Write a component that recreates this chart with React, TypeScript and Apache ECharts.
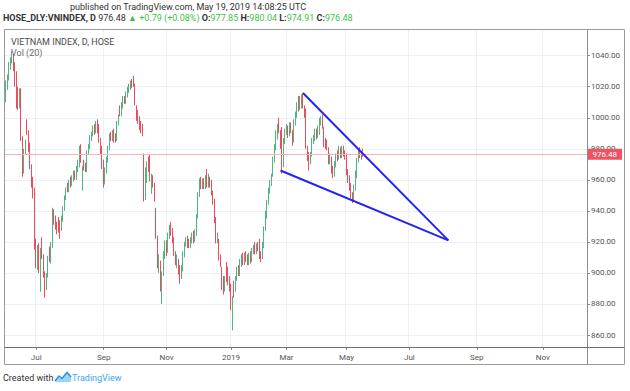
import React, { useEffect, useRef } from "react";
import * as echarts from "echarts";

// ---- data ----
const firstSession = "2018-06-01";
const lastSession = "2019-05-17";
const holidays = [
  "2018-09-03", "2019-01-01", "2019-02-04", "2019-02-05", "2019-02-06",
  "2019-02-07", "2019-02-08", "2019-04-15", "2019-04-29", "2019-04-30", "2019-05-01",
];
const slotCount = 389;
const monthNames = ["Jan", "Feb", "Mar", "Apr", "May", "Jun", "Jul", "Aug", "Sep", "Oct", "Nov", "Dec"];

// [open, close, low, high]
const candlesJun2018 = [
  [996, 1012, 994, 1014], [1012, 1021, 1010, 1024], [1021, 1026, 1018, 1028], [1026, 1034, 1024, 1036],
  [1034, 1037, 1031, 1039], [1037, 1040, 1035, 1043], [1040, 1034, 1030, 1041], [1034, 1022, 1020, 1036],
  [1024, 1016, 1006, 1030], [1018, 1008, 1005, 1020], [1008, 1017, 1006, 1019], [1017, 988, 985, 1019],
  [986, 966, 962, 988], [966, 978, 964, 980], [978, 984, 976, 986], [997, 991, 989, 999],
  [990, 981, 978, 992], [982, 970, 967, 984], [968, 958, 955, 970], [958, 950, 948, 962],
  [952, 918, 915, 955],
];
const candlesJul2018 = [
  [920, 906, 903, 922], [907, 916, 902, 918], [916, 903, 900, 919], [892, 914, 888, 916],
  [918, 912, 909, 923], [910, 900, 897, 912], [899, 892, 884, 901], [892, 898, 889, 900],
  [899, 909, 897, 911], [914, 910, 907, 917], [909, 918, 906, 920], [918, 940, 916, 942],
  [938, 934, 931, 941], [935, 930, 928, 937], [931, 928, 925, 933], [934, 929, 926, 936],
  [931, 927, 922, 934], [929, 935, 927, 937], [935, 941, 933, 943], [942, 948, 940, 950],
  [949, 953, 947, 955], [956, 954, 952, 958],
];
const candlesAug2018 = [
  [954, 958, 952, 960], [960, 957, 955, 962], [958, 961, 956, 963], [961, 964, 959, 966],
  [964, 962, 960, 966], [962, 967, 960, 969], [967, 971, 965, 973], [970, 980, 968, 982],
  [981, 973, 971, 983], [958, 967, 953, 969], [970, 968, 966, 973], [968, 967, 965, 971],
  [967, 977, 965, 979], [978, 981, 976, 983], [982, 987, 980, 989], [987, 989, 985, 991],
  [990, 993, 988, 995], [994, 992, 989, 996], [992, 996, 990, 998], [998, 993, 990, 999],
  [994, 986, 984, 996], [985, 979, 976, 987], [980, 970, 967, 982],
];
const candlesSep2018 = [
  [971, 960, 955, 973], [960, 966, 957, 968], [966, 973, 964, 975], [973, 980, 971, 982],
  [981, 988, 979, 990], [989, 987, 985, 991], [987, 990, 985, 992], [991, 987, 984, 993],
  [988, 986, 984, 990], [987, 996, 985, 998], [997, 1000, 995, 1002], [1005, 1003, 1001, 1008],
  [1003, 1008, 1001, 1010], [1008, 1012, 1006, 1014], [1012, 1011, 1009, 1014], [1011, 1015, 1009, 1017],
  [1015, 1018, 1013, 1020], [1018, 1020, 1016, 1022], [1020, 1022, 1018, 1024],
];
const candlesOct2018 = [
  [1024, 1021, 1019, 1025], [1025, 1022, 1020, 1027], [1021, 1010, 1008, 1022], [1006, 1000, 998, 1008],
  [1003, 998, 996, 1005], [999, 994, 992, 1001], [996, 993, 990, 998], [994, 990, 988, 996],
  [976, 950, 946, 977], [950, 966, 947, 968], [962, 970, 958, 972], [971, 968, 965, 975],
  [969, 962, 959, 976], [955, 962, 951, 964], [961, 957, 955, 963], [956, 948, 946, 958],
  [940, 925, 922, 942], [922, 906, 903, 924], [904, 909, 900, 912], [906, 890, 888, 908],
  [888, 899, 880, 901], [900, 912, 898, 914], [911, 919, 909, 921],
];
const candlesNov2018 = [
  [919, 914, 911, 921], [915, 924, 913, 926], [924, 929, 922, 931], [931, 926, 924, 933],
  [927, 922, 919, 929], [921, 914, 911, 923], [912, 908, 905, 914], [905, 910, 903, 912],
  [907, 901, 899, 909], [903, 898, 893, 905], [898, 903, 896, 905], [903, 912, 901, 914],
  [912, 918, 910, 920], [919, 921, 917, 923], [922, 919, 916, 924], [920, 918, 916, 922],
  [918, 921, 916, 923], [921, 924, 919, 926], [925, 921, 919, 927], [922, 926, 920, 928],
  [926, 936, 924, 938], [937, 950, 935, 952],
];
const candlesDec2018 = [
  [951, 959, 949, 961], [960, 956, 954, 962], [956, 959, 954, 961], [959, 956, 954, 961],
  [956, 961, 954, 963], [962, 957, 955, 967], [957, 961, 955, 964], [960, 957, 955, 962],
  [958, 952, 950, 960], [951, 946, 944, 953], [946, 935, 932, 948], [934, 922, 919, 936],
  [921, 924, 919, 926], [920, 911, 908, 922], [910, 906, 904, 912], [902, 892, 889, 904],
  [894, 889, 886, 898], [890, 896, 888, 898], [905, 897, 894, 907], [902, 895, 892, 904],
  [896, 892, 888, 898],
];
const candlesJan2019 = [
  [891, 878, 876, 893], [876, 883, 863, 885], [893, 889, 884, 895], [890, 896, 888, 898],
  [897, 902, 895, 904], [903, 900, 898, 905], [900, 907, 898, 909], [906, 910, 904, 912],
  [910, 907, 905, 913], [907, 911, 905, 913], [912, 909, 907, 914], [910, 907, 905, 912],
  [907, 911, 905, 913], [912, 909, 906, 914], [909, 914, 907, 916], [914, 916, 912, 918],
  [917, 914, 912, 920], [914, 917, 912, 919], [917, 916, 914, 920], [916, 911, 909, 922],
  [912, 910, 907, 914], [911, 918, 909, 920],
];
const candlesFeb2019 = [
  [918, 928, 916, 930], [929, 938, 927, 940], [937, 945, 935, 947], [946, 953, 944, 955],
  [953, 958, 951, 960], [958, 962, 956, 964], [964, 973, 962, 975], [973, 981, 971, 983],
  [981, 990, 979, 992], [988, 994, 986, 996], [996, 992, 990, 1000], [990, 983, 980, 992],
  [992, 966, 964, 994], [970, 985, 968, 987], [985, 991, 983, 993],
];
const candlesMar2019 = [
  [991, 994, 989, 996], [993, 990, 987, 995], [990, 995, 988, 997], [995, 992, 990, 997],
  [990, 985, 982, 992], [986, 997, 984, 999], [997, 1002, 995, 1004], [1002, 1008, 1000, 1010],
  [1012, 1006, 1004, 1014], [1007, 1012, 1005, 1014], [1008, 1013, 1006, 1015], [1015, 1008, 1006, 1016],
  [1006, 1002, 1000, 1008], [1004, 983, 980, 1006], [980, 974, 972, 982], [976, 971, 966, 978],
  [972, 976, 970, 978], [977, 985, 975, 987], [985, 987, 983, 989], [987, 991, 985, 993],
  [991, 988, 986, 993],
];
const candlesApr2019 = [
  [989, 993, 987, 995], [991, 998, 989, 1000], [997, 1000, 995, 1001], [1000, 995, 993, 1002],
  [992, 983, 981, 994], [985, 982, 980, 987], [984, 981, 979, 986], [979, 972, 970, 981],
  [972, 975, 970, 977], [973, 967, 964, 975], [967, 963, 961, 969], [964, 970, 962, 972],
  [970, 975, 968, 977], [977, 974, 972, 979], [975, 980, 973, 982], [979, 976, 974, 981],
  [976, 980, 974, 982], [980, 977, 975, 982], [978, 975, 973, 979],
];
const candlesMay2019 = [
  [975, 966, 963, 977], [965, 961, 958, 967], [961, 956, 953, 963], [956, 950, 948, 958],
  [950, 948, 945, 952], [948, 955, 946, 957], [955, 964, 953, 966], [963, 972, 961, 974],
  [973, 978, 971, 980], [979, 976, 974, 981], [976, 975.69, 973, 978], [977.85, 976.48, 974.91, 980.04],
];

const lastClose = 976.48;
const priceMin = 860;
const priceMax = 1040;
const priceStep = 20;
const trendUpper = [["2019-03-18", 1016], ["2019-08-06", 921]];
const trendLower = [["2019-02-25", 966], ["2019-08-06", 921]];

const candles = [
  ...candlesJun2018, ...candlesJul2018, ...candlesAug2018, ...candlesSep2018,
  ...candlesOct2018, ...candlesNov2018, ...candlesDec2018, ...candlesJan2019,
  ...candlesFeb2019, ...candlesMar2019, ...candlesApr2019, ...candlesMay2019,
];

function buildSessions(): string[] {
  const out: string[] = [];
  const d = new Date(firstSession + "T00:00:00Z");
  while (out.length < slotCount) {
    const iso = d.toISOString().slice(0, 10);
    const wd = d.getUTCDay();
    const isHoliday = iso <= lastSession && holidays.indexOf(iso) >= 0;
    if (wd !== 0 && wd !== 6 && !isHoliday) out.push(iso);
    d.setUTCDate(d.getUTCDate() + 1);
  }
  return out;
}

const FONT = "Roboto, 'Open Sans', sans-serif";

export default function App() {
  const ref = useRef<HTMLDivElement>(null);

  useEffect(() => {
    document.body.style.margin = "0";
    if (!ref.current) return;
    const chart = echarts.init(ref.current, undefined, { renderer: "svg" });

    const sessions = buildSessions();
    const labelIdx = new Set<number>();
    for (let i = 1; i < sessions.length; i++) {
      const m = +sessions[i].slice(5, 7);
      const pm = +sessions[i - 1].slice(5, 7);
      if (m !== pm && m % 2 === 1) labelIdx.add(i);
    }
    const showAt = (i: number) => labelIdx.has(i);
    const fmt = (v: string) => {
      const m = +v.slice(5, 7);
      return m === 1 ? v.slice(0, 4) : monthNames[m - 1];
    };

    const gridColor = "#edf1f7";
    const green = "#4fb682";
    const red = "#eb4d5c";
    const legendGreen = "#3fbf4a";

    const option: any = {
      animation: false,
      textStyle: { fontFamily: FONT },
      grid: [
        { left: 4, right: 43, top: 55.7, bottom: 56 },
        { left: 4, right: 43, top: 29, bottom: 44 },
      ],
      xAxis: [
        { type: "category", gridIndex: 0, data: sessions, show: false },
        {
          type: "category",
          gridIndex: 1,
          data: sessions,
          axisLine: { show: false },
          axisTick: {
            show: true,
            alignWithLabel: true,
            interval: showAt,
            length: 3,
            lineStyle: { color: "#8a8a8a" },
          },
          axisLabel: {
            interval: showAt,
            formatter: fmt,
            fontSize: 8,
            color: "#555",
            margin: 6,
            fontFamily: FONT,
          },
          splitLine: { show: true, interval: showAt, lineStyle: { color: gridColor } },
        },
      ],
      yAxis: [
        {
          type: "value",
          gridIndex: 0,
          position: "right",
          min: priceMin,
          max: priceMax,
          interval: priceStep,
          axisLine: { show: false },
          axisTick: { show: true, length: 3, lineStyle: { color: "#8a8a8a" } },
          axisLabel: {
            formatter: (v: number) => v.toFixed(2),
            fontSize: 8,
            color: "#555",
            margin: 4,
            fontFamily: FONT,
          },
          splitLine: { show: true, lineStyle: { color: gridColor } },
        },
        { type: "value", gridIndex: 1, show: false, min: 0, max: 1, splitLine: { show: false } },
      ],
      series: [
        {
          type: "candlestick",
          xAxisIndex: 0,
          yAxisIndex: 0,
          data: candles,
          barWidth: 1.1,
          clip: false,
          silent: true,
          itemStyle: {
            color: green,
            color0: red,
            borderColor: green,
            borderColor0: red,
            borderWidth: 1,
          },
          markLine: {
            silent: true,
            symbol: ["none", "none"],
            data: [{ yAxis: lastClose }],
            lineStyle: { color: "#f6b3ba", width: 1, type: "solid" },
            label: {
              show: true,
              position: "end",
              formatter: lastClose.toFixed(2),
              color: "#fff",
              backgroundColor: "#ef5261",
              fontSize: 8,
              lineHeight: 9,
              padding: [1, 5, 1, 5],
              distance: 0.5,
              fontFamily: FONT,
            },
          },
          z: 3,
        },
        {
          type: "line",
          xAxisIndex: 0,
          yAxisIndex: 0,
          data: trendUpper,
          symbol: "none",
          silent: true,
          lineStyle: { color: "#2424f2", width: 2 },
          z: 5,
        },
        {
          type: "line",
          xAxisIndex: 0,
          yAxisIndex: 0,
          data: trendLower,
          symbol: "none",
          silent: true,
          lineStyle: { color: "#2424f2", width: 2 },
          z: 5,
        },
      ],
      graphic: [
        {
          type: "rect",
          silent: true,
          z: 100,
          shape: { x: 4.5, y: 29.5, width: 620, height: 335 },
          style: { fill: "none", stroke: "#9a9a9a", lineWidth: 1 },
        },
        {
          type: "line",
          silent: true,
          z: 100,
          shape: { x1: 587.5, y1: 29.5, x2: 587.5, y2: 364.5 },
          style: { stroke: "#8c8c8c", lineWidth: 1 },
        },
        {
          type: "line",
          silent: true,
          z: 100,
          shape: { x1: 4.5, y1: 347.5, x2: 624.5, y2: 347.5 },
          style: { stroke: "#6e6e6e", lineWidth: 1 },
        },
        {
          type: "text",
          x: 70,
          y: 7,
          z: 100,
          style: {
            text: "published on TradingView.com, May 19, 2019 14:08:25 UTC",
            fontSize: 9,
            fontFamily: FONT,
            fill: "#333",
            verticalAlign: "middle",
          },
        },
        {
          type: "text",
          x: 3,
          y: 18,
          z: 100,
          style: {
            text:
              "{b|HOSE_DLY:VNINDEX, D} {n|976.48} {g|▲ +0.79 (+0.08%)} {b|O:}{g|977.85} {b|H:}{g|980.04} {b|L:}{g|974.91} {b|C:}{g|976.48}",
            fontSize: 9,
            fontFamily: FONT,
            fill: "#333",
            verticalAlign: "middle",
            rich: {
              b: { fontWeight: "bold", fill: "#333", fontSize: 9, fontFamily: FONT },
              n: { fill: "#333", fontSize: 9, fontFamily: FONT },
              g: { fill: legendGreen, fontSize: 9, fontFamily: FONT },
            },
          },
        },
        {
          type: "text",
          x: 11,
          y: 42,
          z: 100,
          style: {
            text: "VIETNAM INDEX, D, HOSE",
            fontSize: 9,
            fontFamily: FONT,
            fill: "#4a4a4a",
            verticalAlign: "middle",
          },
        },
        {
          type: "text",
          x: 11,
          y: 53,
          z: 100,
          style: {
            text: "Vol (20)",
            fontSize: 9,
            fontFamily: FONT,
            fill: "#6a6a6a",
            verticalAlign: "middle",
          },
        },
        {
          type: "text",
          x: 3,
          y: 378,
          z: 100,
          style: {
            text: "Created with",
            fontSize: 9,
            fontFamily: FONT,
            fill: "#333",
            verticalAlign: "middle",
          },
        },
        {
          type: "polygon",
          z: 100,
          shape: {
            points: [[55, 382], [59, 377], [62, 379], [67, 373], [71, 377], [71, 382]],
          },
          style: { fill: "#9ad5f8" },
        },
        {
          type: "polyline",
          z: 101,
          shape: { points: [[55, 381], [59, 376], [62, 378.5], [67, 372.5], [71, 377]] },
          style: { stroke: "#2b8fe0", lineWidth: 1.5, fill: "none" },
        },
        {
          type: "text",
          x: 72,
          y: 378,
          z: 100,
          style: {
            text: "TradingView",
            fontSize: 9,
            fontFamily: FONT,
            fill: "#3aa6ee",
            verticalAlign: "middle",
          },
        },
      ],
    };

    chart.setOption(option);
    return () => chart.dispose();
  }, []);

  return <div ref={ref} style={{ width: 630, height: 391 }} />;
}
